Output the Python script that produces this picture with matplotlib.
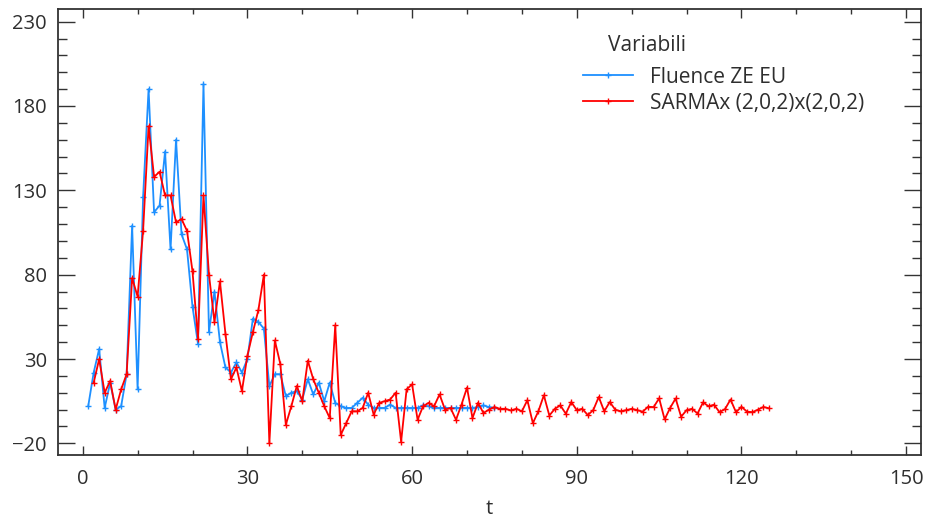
import numpy as np
import matplotlib
matplotlib.use("Agg")
import matplotlib.pyplot as plt
from matplotlib.ticker import FixedLocator, MultipleLocator

plt.rcParams['font.family'] = ['Open Sans', 'DejaVu Sans']

# observed series
t_fluence = np.arange(1, 76)
fluence = [2, 22, 36, 1, 16, 0, 2, 21, 109, 12,
           126, 190, 117, 121, 153, 95, 160, 104, 95, 61,
           39, 193, 46, 70, 40, 25, 22, 28, 22, 30,
           54, 52, 48, 14, 21, 21, 8, 10, 11, 6,
           18, 9, 16, 5, 16, 4, 2, 1, 1, 4,
           7, 3, 1, 1, 1, 3, 1, 1, 1, 1,
           1, 2.5, 2, 1, 1, 1, 1, 1, 1, 1,
           1, 1.5, 2.5, 1.5, 1]

# model fit + forecast
t_sarma = np.arange(2, 126)
sarma = [16, 30, 10, 17, 0, 12, 21, 78, 67,
         106, 168, 138, 141, 127, 127, 111, 113, 106, 82,
         42, 127, 80, 52, 76, 45, 18, 25, 11, 32,
         46, 59, 80, -20, 41, 27, -9, 2, 14, 5,
         29, 18, 10, 2, -5, 50, -15, -8, -1, -1,
         1, 10, -3, 4, 5, 6, 10, -19, 12, 15,
         -6, 2, 4, 2, 9, 0, 1, -6, 3, 13,
         -5, 4, -2, 0, 1.5, 0.5, 0.5, -0.5, 0.5, -1,
         5.6, -8, -1, 8.5, -3.5, 0.5, 2.5, -2.4, 4.5, -0.3,
         0.5, -3.2, -0.3, 7.5, -1, 4.5, 0, -1, -0.3, 0.5,
         -0.3, -1.2, 1.7, 1.5, 6.7, -5.8, 1, 6.6, -4.2, -0.3,
         0.5, -2.3, 4.3, 2, 2.9, -1.5, 0.3, 6, -1.5, 1.7,
         -1.2, -1.5, 0, 1.6, 0.8]

y_major = [-20, 30, 80, 130, 180, 230]

text_col = '#2e2e2e'
fig = plt.figure(figsize=(9.28, 5.21), dpi=100)
ax = fig.add_axes([58 / 928, 1 - 455 / 521, 863 / 928, 446 / 521])

ax.plot(t_fluence, fluence, color='#1e90ff', lw=1.3, marker='+', ms=4, mew=1,
        label='Fluence ZE EU')
ax.plot(t_sarma, sarma, color='#ff0000', lw=1.3, marker='+', ms=4, mew=1,
        label='SARMAx (2,0,2)x(2,0,2)')

ax.set_xlim(-4.5, 152.7)
ax.set_ylim(-26.9, 237.5)
ax.xaxis.set_major_locator(MultipleLocator(30))
ax.xaxis.set_minor_locator(MultipleLocator(10))
ax.yaxis.set_major_locator(FixedLocator(y_major))
ax.yaxis.set_minor_locator(MultipleLocator(10))

ax.tick_params(which='both', direction='in', top=True, right=True,
               colors='#333333', labelcolor=text_col, labelsize=14.5, width=1)
ax.tick_params(axis='y', which='major', length=12.5, pad=8)
ax.tick_params(axis='y', which='minor', length=6.5)
ax.tick_params(axis='x', which='major', length=6.5, pad=10)
ax.tick_params(axis='x', which='minor', length=3.5)
for s in ax.spines.values():
    s.set_color('#333333')
    s.set_linewidth(1.3)

ax.set_xlabel('t', fontsize=14.5, color=text_col, labelpad=7)

ax.text(0.637, 0.919, 'Variabili', transform=ax.transAxes, fontsize=15,
        color=text_col, va='center', ha='left')
leg = ax.legend(loc='upper left', bbox_to_anchor=(0.608, 0.871), frameon=False,
                fontsize=15, handlelength=2.4, handletextpad=0.82,
                labelspacing=0.25, borderpad=0, borderaxespad=0)
for txt in leg.get_texts():
    txt.set_color(text_col)

fig.savefig('out.png', dpi=100)
